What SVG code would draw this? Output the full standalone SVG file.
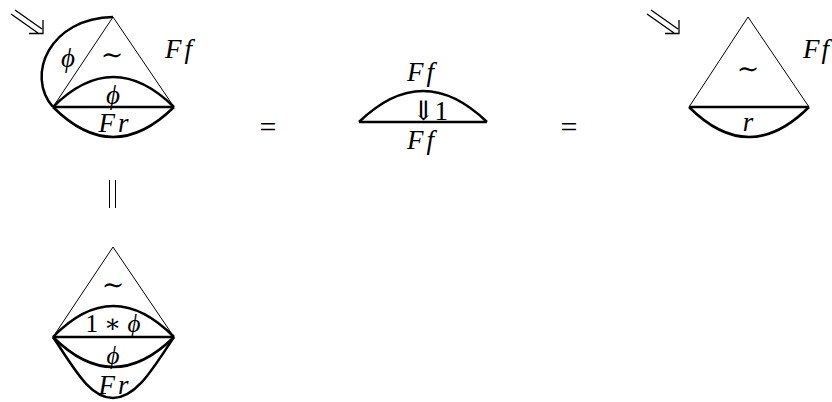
<svg xmlns="http://www.w3.org/2000/svg" width="832" height="402" viewBox="0 0 832 402">
<style>
.thin{fill:none;stroke:#000;stroke-width:1}
.thick{fill:none;stroke:#000;stroke-width:2.5}
.ar{fill:none;stroke:#000;stroke-width:1.3}
text{font-family:'Liberation Serif','DejaVu Serif',serif;font-size:27px;text-anchor:middle;fill:#000}
.m{font-style:italic}
.ff{font-style:italic;letter-spacing:3px}
.s{font-family:'DejaVu Serif',serif}
.eq{font-size:30px}
</style>
<rect width="832" height="402" fill="#fff"/>
<g id="fig1">
<path class="thin" d="M53,107 L113,17 L174,107"/>
<path class="thick" d="M113,17 C50,18 25,75 53,107"/>
<path class="thick" d="M53,107 Q113,47 174,107"/>
<path class="thick" d="M53,107 L174,107"/>
<path class="thick" d="M53,107 Q113,167 174,107"/>
<path class="ar" d="M15,10 L42,29 M11,14 L38,33 M43,20 L43,33.5 L29,33.5"/>
<text class="m" x="68" y="67">ϕ</text>
<text x="112" y="64">∼</text>
<text class="ff" x="180" y="58">Ff</text>
<text class="m" x="113" y="104">ϕ</text>
<text class="ff" x="115" y="132">Fr</text>
</g>
<g id="eq1"><text class="eq" x="268" y="137">=</text></g>
<g id="fig2">
<path class="thick" d="M359,122 Q423,60 487,122"/>
<path class="thick" d="M359,122 L487,122"/>
<text class="ff" x="422" y="81">Ff</text>
<text x="430" y="120"><tspan class="s" style="font-size:27px">⇓</tspan>1</text>
<text class="ff" x="422" y="149">Ff</text>
</g>
<g id="eq2"><text class="eq" x="569" y="137">=</text></g>
<g id="fig3">
<path class="thin" d="M689,107 L748,17 L809,107"/>
<path class="thick" d="M689,107 L809,107"/>
<path class="thick" d="M689,107 Q749,167 809,107"/>
<path class="ar" d="M651,10 L678,29 M647,14 L674,33 M679,20 L679,33.5 L665,33.5"/>
<text x="748" y="78">∼</text>
<text class="m" x="831" y="58" style="text-anchor:end;letter-spacing:2px">Ff</text>
<text class="m" x="748" y="131">r</text>
</g>
<g id="eq3"><path class="thin" d="M109.5,180 V208 M115.5,180 V208"/></g>
<g id="fig4">
<path class="thin" d="M53,337 L113,247 L174,337"/>
<path class="thick" d="M53,337 Q113,275 174,337"/>
<path class="thick" d="M53,337 L174,337"/>
<path class="thick" d="M53,337 Q113,397 174,337"/>
<path class="thick" d="M53,337 C75,370 90,398 113,398 C136,398 152,370 174,337"/>
<text x="113" y="294">∼</text>
<text x="113" y="332" style="font-size:25px">1 ∗ <tspan class="m">ϕ</tspan></text>
<text class="m" x="113" y="364" style="font-size:25px">ϕ</text>
<text class="ff" x="115" y="394">Fr</text>
</g>
</svg>
